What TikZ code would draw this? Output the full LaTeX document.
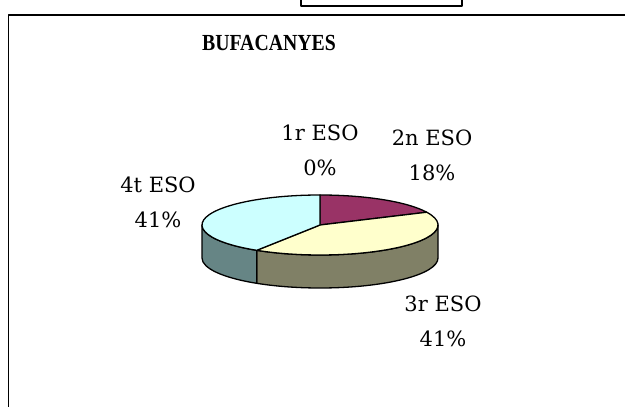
\documentclass[tikz,border=0pt]{standalone}
\usepackage{fontspec}
\setmainfont{DejaVu Serif}
\newfontfamily\titlefont{Liberation Serif}
\usepackage{tikz}
\definecolor{segtwo}{HTML}{993366}
\definecolor{segthree}{HTML}{FFFFCC}
\definecolor{segfour}{HTML}{CCFFFF}
\definecolor{sidethree}{HTML}{808066}
\definecolor{sidefour}{HTML}{668585}

\begin{document}
\begin{tikzpicture}[x=1pt, y=1pt, line join=round]
			\tikzstyle{slice} = [draw=black, line width=1.3pt]
			\tikzstyle{lbl} = [align=center, inner sep=0pt, font=\fontsize{21}{35}\selectfont]

			\useasboundingbox (0,0) rectangle (625,407);
			\clip (0,0) rectangle (625,407);

			% frames
			\draw[line width=1.2pt] (301,401) rectangle (462,420);
			\draw[line width=1.2pt] (8.5,392) rectangle (640,-10);

			% sides of the pie
			\filldraw[slice, fill=sidethree] (438,182) -- (438,149)
				arc[start angle=0, end angle=-122.4, x radius=118, y radius=30]
				-- ++(0,33)
				arc[start angle=-122.4, end angle=0, x radius=118, y radius=30] -- cycle;
			\filldraw[slice, fill=sidefour] (202,182) -- (202,149)
				arc[start angle=-180, end angle=-122.4, x radius=118, y radius=30]
				-- ++(0,33)
				arc[start angle=-122.4, end angle=-180, x radius=118, y radius=30] -- cycle;

			% top of the pie
			\coordinate (ctr) at (320,182);
			\filldraw[slice, fill=segtwo] (ctr) -- ++(90:30)
				arc[start angle=90, end angle=25.2, x radius=118, y radius=30] -- cycle;
			\filldraw[slice, fill=segthree] (ctr) -- ++({118*cos(25.2)},{30*sin(25.2)})
				arc[start angle=25.2, end angle=-122.4, x radius=118, y radius=30] -- cycle;
			\filldraw[slice, fill=segfour] (ctr) -- ++({118*cos(-122.4)},{30*sin(-122.4)})
				arc[start angle=-122.4, end angle=-270, x radius=118, y radius=30] -- cycle;

			\path
			node[font=\titlefont\bfseries\fontsize{23}{26}\selectfont, xscale=0.86] (title) at (269,364) {BUFACANYES}
			node[lbl] (first) at (320,257) {1r ESO\\0\%}
			node[lbl] (second) at (432,252) {2n ESO\\18\%}
			node[lbl] (fourth) at (158,205) {4t ESO\\41\%}
			node[lbl] (third) at (443,86) {3r ESO\\41\%}
			;
\end{tikzpicture}
\end{document}
